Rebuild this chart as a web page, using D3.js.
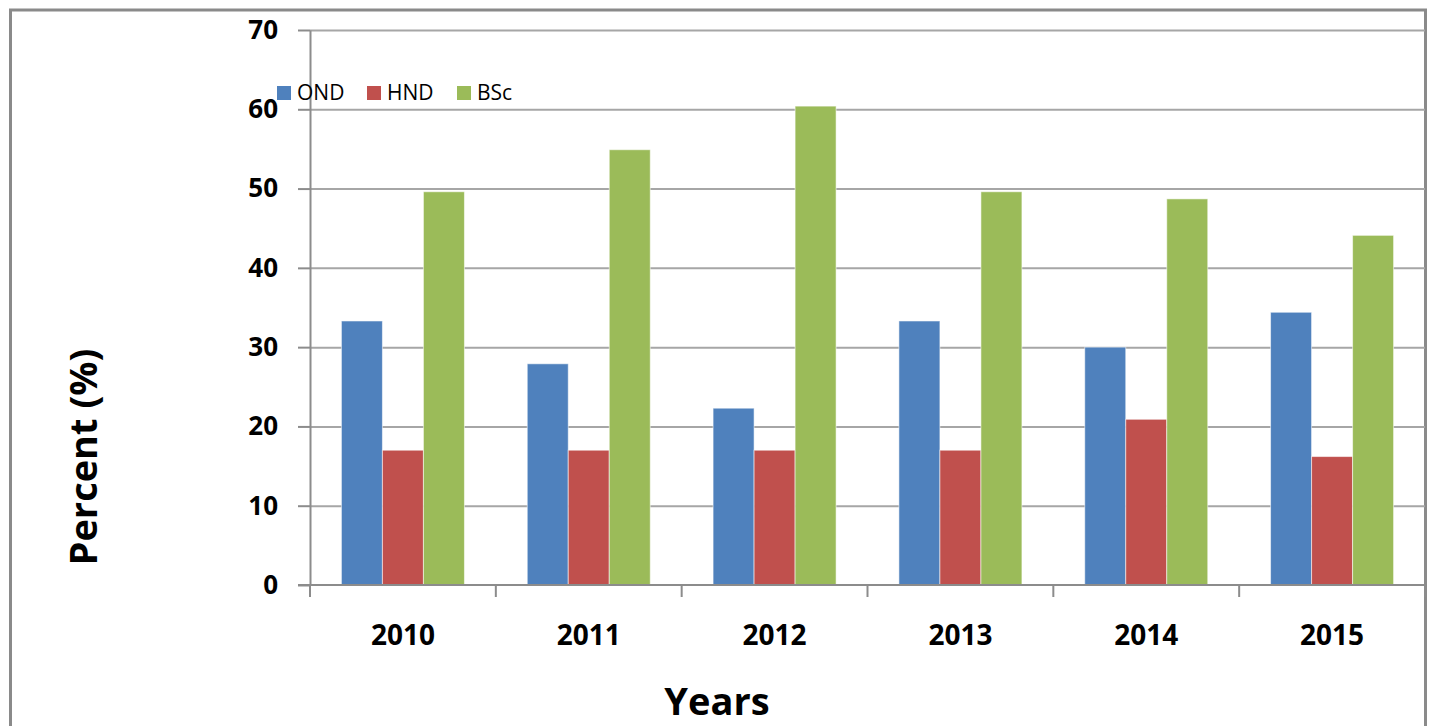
<!DOCTYPE html>
<html>
<head>
<meta charset="utf-8">
<script src="https://cdn.jsdelivr.net/npm/d3@7"></script>
<style>
  body { margin: 0; background: #fff; }
  svg { display: block; font-family: "Open Sans", sans-serif; }
</style>
</head>
<body>
<div id="vis"></div>
<script>
// data
const years = ["2010", "2011", "2012", "2013", "2014", "2015"];
const series = ["OND", "HND", "BSc"];
const ond = [33.3, 27.9, 22.3, 33.3, 30.0, 34.4];
const hnd = [17.0, 17.0, 17.0, 17.0, 20.9, 16.2];
const bsc = [49.6, 54.9, 60.4, 49.6, 48.7, 44.1];
const yTicks = [0, 10, 20, 30, 40, 50, 60, 70];

const COLORS = {OND: "#4f81bd", HND: "#c0504d", BSc: "#9bbb59"};

// frame sizes
const FRAME_WIDTH = 1431;
const FRAME_HEIGHT = 726;
const PLOT = {left: 310, right: 1425, top: 30, bottom: 585};

const rows = years.map((y, i) => ({year: y, OND: ond[i], HND: hnd[i], BSc: bsc[i]}));

const svg = d3.select("#vis")
  .append("svg")
    .attr("width", FRAME_WIDTH)
    .attr("height", FRAME_HEIGHT);

// outer chart border
svg.append("rect")
  .attr("x", 10.5)
  .attr("y", 10)
  .attr("width", 1415)
  .attr("height", 760)
  .attr("fill", "none")
  .attr("stroke", "#8a8a8a")
  .attr("stroke-width", 3);

const X_SCALE = d3.scaleBand()
  .domain(years)
  .range([PLOT.left, PLOT.right])
  .padding(0);

const X_SUB = d3.scaleBand()
  .domain(series)
  .range([0, X_SCALE.bandwidth()])
  .paddingInner(0)
  .paddingOuter(0.766);

const Y_SCALE = d3.scaleLinear()
  .domain([0, 70])
  .range([PLOT.bottom, PLOT.top]);

// gridlines
svg.append("g")
  .attr("transform", "translate(" + PLOT.left + ",0)")
  .call(d3.axisLeft(Y_SCALE).tickValues(yTicks.slice(1))
          .tickSize(-(PLOT.right - PLOT.left)).tickFormat(""))
  .call(g => g.select(".domain").remove())
  .call(g => g.selectAll("line").attr("stroke", "#a6a6a6").attr("stroke-width", 2));

// bars
svg.append("g")
  .selectAll("g")
  .data(rows)
  .enter()
  .append("g")
    .attr("transform", d => "translate(" + X_SCALE(d.year) + ",0)")
  .selectAll("rect")
  .data(d => series.map(s => ({key: s, value: d[s]})))
  .enter()
  .append("rect")
    .attr("x", d => X_SUB(d.key))
    .attr("y", d => Y_SCALE(d.value))
    .attr("width", X_SUB.bandwidth())
    .attr("height", d => PLOT.bottom - Y_SCALE(d.value))
    .attr("fill", d => COLORS[d.key])
    .attr("stroke", "rgba(255,255,255,0.55)")
    .attr("stroke-width", 1);

// y axis
svg.append("g")
  .attr("transform", "translate(" + PLOT.left + ",0)")
  .call(d3.axisLeft(Y_SCALE).tickValues(yTicks).tickSize(12).tickSizeOuter(0).tickPadding(20))
  .call(g => g.select(".domain").attr("stroke", "#8c8c8c").attr("stroke-width", 2))
  .call(g => g.selectAll(".tick line").attr("stroke", "#8c8c8c").attr("stroke-width", 2))
  .call(g => g.selectAll("text")
      .attr("fill", "#000")
      .attr("font-size", "26px")
      .attr("font-weight", "bold")
      .attr("font-family", "Open Sans, sans-serif"));

// x axis with category labels
svg.append("g")
  .attr("transform", "translate(0," + PLOT.bottom + ")")
  .call(d3.axisBottom(X_SCALE).tickSize(0).tickPadding(40))
  .call(g => g.select(".domain").remove())
  .call(g => g.selectAll("text")
      .attr("fill", "#000")
      .attr("font-size", "28px")
      .attr("font-weight", "bold")
      .attr("font-family", "Open Sans, sans-serif"));

// x axis line and boundary ticks
svg.append("line")
  .attr("x1", PLOT.left - 12)
  .attr("x2", PLOT.right)
  .attr("y1", PLOT.bottom)
  .attr("y2", PLOT.bottom)
  .attr("stroke", "#8c8c8c")
  .attr("stroke-width", 2);

const edges = years.map(y => X_SCALE(y)).concat([PLOT.right]);
svg.selectAll(".xtick")
  .data(edges)
  .enter()
  .append("line")
    .attr("class", "xtick")
    .attr("x1", d => d)
    .attr("x2", d => d)
    .attr("y1", PLOT.bottom)
    .attr("y2", PLOT.bottom + 12)
    .attr("stroke", "#8c8c8c")
    .attr("stroke-width", 2);

// axis titles
svg.append("text")
  .attr("x", 717)
  .attr("y", 715)
  .attr("text-anchor", "middle")
  .attr("font-size", "38px")
  .attr("font-weight", "bold")
  .text("Years");

svg.append("text")
  .attr("transform", "translate(97,457) rotate(-90)")
  .attr("text-anchor", "middle")
  .attr("font-size", "38px")
  .attr("font-weight", "bold")
  .text("Percent (%)");

// legend
const legendX = [277, 367, 457];
const legend = svg.append("g")
  .selectAll("g")
  .data(series)
  .enter()
  .append("g")
    .attr("transform", (d, i) => "translate(" + legendX[i] + ",86)");

legend.append("rect")
  .attr("width", 14)
  .attr("height", 14)
  .attr("fill", d => COLORS[d]);

legend.append("text")
  .attr("x", 20)
  .attr("y", 14)
  .attr("font-size", "21px")
  .attr("fill", "#000")
  .text(d => d);
</script>
</body>
</html>
